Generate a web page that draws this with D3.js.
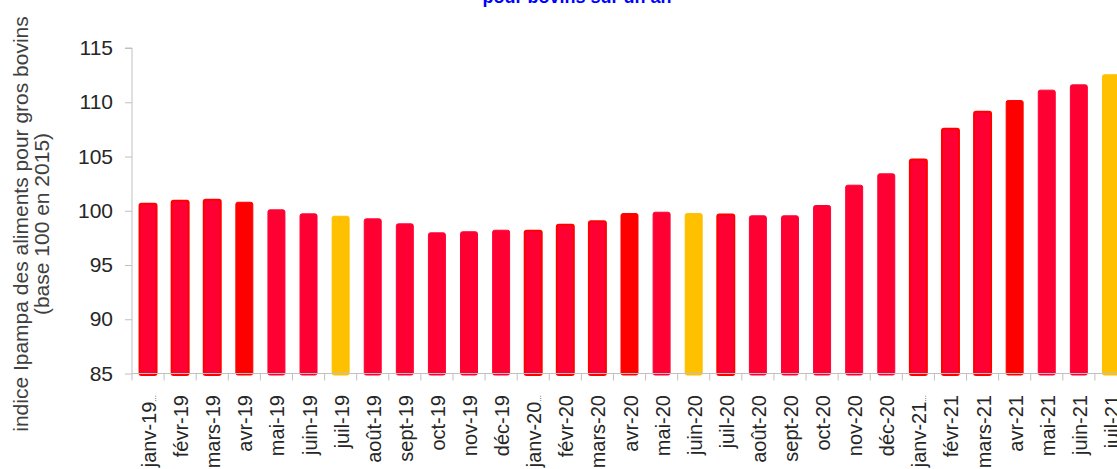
<!DOCTYPE html>
<html>
<head>
<meta charset="utf-8">
<script src="https://cdnjs.cloudflare.com/ajax/libs/d3/7.8.5/d3.min.js"></script>
<style>
  body { margin: 0; background: #fff; overflow: hidden; }
  text { font-family: Arial, "Liberation Sans", sans-serif; fill: #262626; }
</style>
</head>
<body>
<div id="chart"></div>
<script>
// month labels (janv labels were truncated in the original)
var months = ["janv-19", "févr-19", "mars-19", "avr-19", "mai-19", "juin-19", "juil-19", "août-19",
  "sept-19", "oct-19", "nov-19", "déc-19", "janv-20", "févr-20", "mars-20", "avr-20", "mai-20",
  "juin-20", "juil-20", "août-20", "sept-20", "oct-20", "nov-20", "déc-20", "janv-21", "févr-21",
  "mars-21", "avr-21", "mai-21", "juin-21", "juil-21"];
var truncated = ["janv-19", "janv-20", "janv-21"];

// indice Ipampa (base 100 en 2015)
var values = [100.7, 100.96, 101.05, 100.83, 100.13, 99.76, 99.54, 99.3,
  98.84, 98.01, 98.11, 98.25, 98.2, 98.75, 99.08, 99.79, 99.91,
  99.79, 99.7, 99.58, 99.58, 100.53, 102.4, 103.45, 104.77, 107.6,
  109.17, 110.21, 111.16, 111.65, 112.58];

// bar colour kind: m = red edge / crimson fill, r = red, c = crimson, y = gold
var kinds = ["m", "m", "m", "r", "c", "c", "y", "c",
  "c", "c", "c", "c", "m", "m", "m", "r", "c",
  "y", "m", "c", "c", "c", "c", "c", "m", "m",
  "m", "r", "c", "c", "y"];

var yTicks = [85, 90, 95, 100, 105, 110, 115];

var width = 1117;
var height = 469;
var gray = "#c0c0c0";

var fills = { m: "#ff0033", r: "#ff0000", c: "#ff0033", y: "#ffc000" };
var strokes = { m: "#ff0000", r: "#ff0000", c: "#ff0033", y: "#ffc000" };

window.onload = function() {
  var svg = d3.select("#chart")
    .append("svg")
    .attr("width", width)
    .attr("height", height);

  var x = d3.scaleBand()
    .domain(months)
    .range([132, 1127])
    .paddingInner(0.44)
    .paddingOuter(0.22);

  var y = d3.scaleLinear()
    .domain([85, 115])
    .range([373.5, 48]);

  // title, mostly cut off at the top
  svg.append("text")
    .attr("x", 577)
    .attr("y", 3)
    .attr("text-anchor", "middle")
    .style("font-size", "18px")
    .style("font-weight", "bold")
    .style("fill", "#0000ff")
    .text("pour bovins sur un an");

  // y axis title
  var yTitle = svg.append("text")
    .attr("transform", "translate(0,224)rotate(-90)")
    .attr("text-anchor", "middle")
    .style("font-size", "21px")
    .style("fill", "#404040");
  yTitle.append("tspan").attr("x", 0).attr("y", 28).text("indice Ipampa des aliments pour gros bovins");
  yTitle.append("tspan").attr("x", 0).attr("y", 49).text("(base 100 en 2015)");

  // bars
  svg.selectAll("rect.bar")
    .data(values)
    .enter()
    .append("rect")
    .attr("class", "bar")
    .attr("x", function(d, i) { return x(months[i]) + 0.5; })
    .attr("width", x.bandwidth() - 1)
    .attr("y", function(d) { return y(d) + 0.5; })
    .attr("height", function(d) { return y(85) - y(d) + 1; })
    .attr("rx", 2)
    .style("fill", function(d, i) { return fills[kinds[i]]; })
    .style("stroke", function(d, i) { return strokes[kinds[i]]; })
    .style("stroke-width", function(d, i) { return kinds[i] === "m" ? 2 : 1; });

  // y axis
  var yAxis = d3.axisLeft(y)
    .tickValues(yTicks)
    .tickSize(7)
    .tickPadding(12);
  var gy = svg.append("g")
    .attr("transform", "translate(132,0)")
    .call(yAxis);
  gy.select(".domain").attr("stroke", gray).attr("d", "M-7," + y(115) + "H0V" + y(85));
  gy.selectAll(".tick line").attr("stroke", gray);
  gy.selectAll(".tick text")
    .style("font-size", "21px")
    .style("font-family", "Arial, 'Liberation Sans', sans-serif")
    .attr("fill", "#262626");

  // x axis line and ticks at band boundaries
  var step = x.step();
  svg.append("line")
    .attr("x1", 132).attr("x2", width)
    .attr("y1", y(85)).attr("y2", y(85))
    .attr("stroke", gray);

  svg.selectAll("line.xtick")
    .data(months)
    .enter()
    .append("line")
    .attr("class", "xtick")
    .attr("x1", function(d) { return x(d) - step * 0.22; })
    .attr("x2", function(d) { return x(d) - step * 0.22; })
    .attr("y1", y(85))
    .attr("y2", y(85) + 7)
    .attr("stroke", gray);

  // rotated month labels
  var labels = svg.selectAll("text.xlab")
    .data(months)
    .enter()
    .append("text")
    .attr("class", "xlab")
    .attr("text-anchor", "end")
    .attr("transform", function(d) {
      return "translate(" + (x(d) + x.bandwidth() / 2 + 1) + ",395)rotate(-90)";
    })
    .attr("dy", "0.35em")
    .style("font-size", "20px");

  labels.append("tspan").text(function(d) { return d; });
  labels.filter(function(d) { return truncated.indexOf(d) >= 0; })
    .append("tspan")
    .style("font-size", "8px")
    .text("...");
};
</script>
</body>
</html>
